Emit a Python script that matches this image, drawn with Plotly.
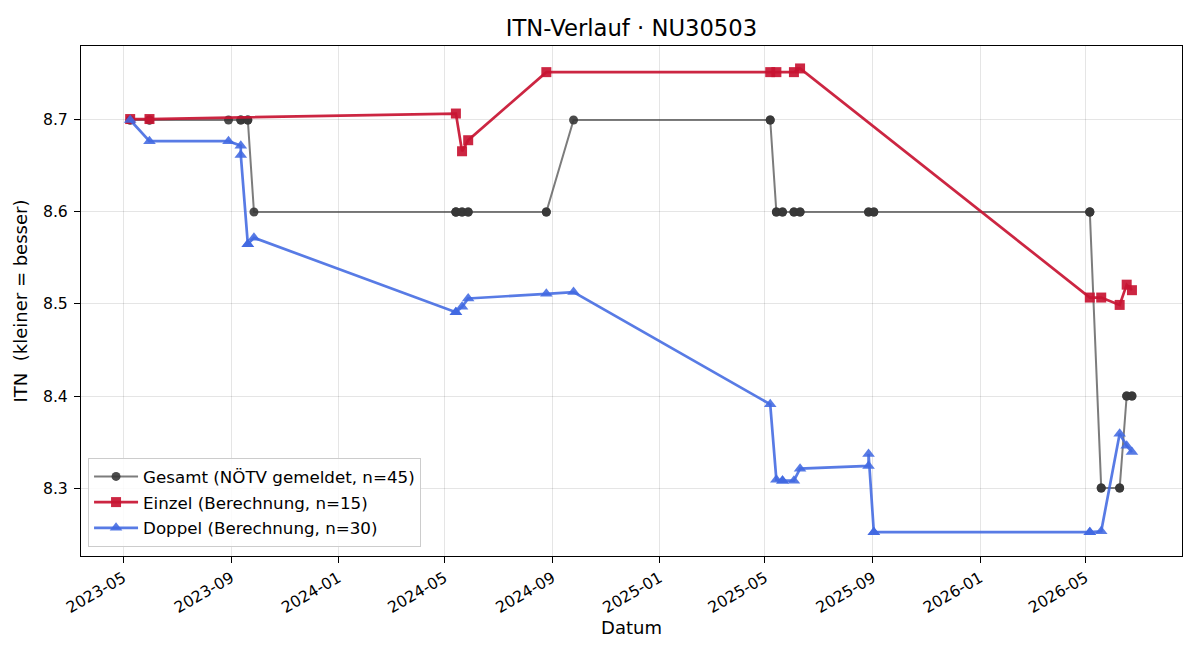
import plotly.graph_objects as go

# ---- data ----
einzel_dates = ["2023-05-09", "2023-05-31", "2024-05-14", "2024-05-21", "2024-05-28",
                "2024-08-25", "2025-05-07", "2025-05-14", "2025-06-03", "2025-06-10",
                "2026-05-06", "2026-05-19", "2026-06-09", "2026-06-17", "2026-06-23"]
einzel_vals = [8.701, 8.701, 8.707, 8.666, 8.678,
               8.752, 8.752, 8.752, 8.752, 8.756,
               8.507, 8.507, 8.499, 8.521, 8.515]

doppel_dates = ["2023-05-09", "2023-05-31", "2023-08-29", "2023-09-12", "2023-09-12",
                "2023-09-20", "2023-09-20", "2023-09-27", "2024-05-14", "2024-05-14",
                "2024-05-21", "2024-05-28", "2024-08-25", "2024-09-25", "2025-05-07",
                "2025-05-14", "2025-05-21", "2025-05-21", "2025-06-03", "2025-06-10",
                "2025-08-27", "2025-08-27", "2025-09-02", "2025-09-02", "2026-05-06",
                "2026-05-06", "2026-05-19", "2026-06-09", "2026-06-17", "2026-06-23"]
doppel_vals = [8.700, 8.677, 8.677, 8.672, 8.662,
               8.565, 8.565, 8.572, 8.491, 8.491,
               8.497, 8.506, 8.511, 8.513, 8.391,
               8.309, 8.308, 8.308, 8.308, 8.321,
               8.324, 8.337, 8.252, 8.252, 8.252,
               8.252, 8.253, 8.359, 8.346, 8.339]

gesamt_dates = ["2023-05-09", "2023-05-09", "2023-05-31", "2023-05-31", "2023-08-29",
                "2023-09-12", "2023-09-12", "2023-09-20", "2023-09-20", "2023-09-27",
                "2024-05-14", "2024-05-14", "2024-05-14", "2024-05-21", "2024-05-21",
                "2024-05-28", "2024-05-28", "2024-08-25", "2024-08-25", "2024-09-25",
                "2025-05-07", "2025-05-07", "2025-05-14", "2025-05-14", "2025-05-21",
                "2025-05-21", "2025-06-03", "2025-06-03", "2025-06-10", "2025-06-10",
                "2025-08-27", "2025-08-27", "2025-09-02", "2025-09-02", "2026-05-06",
                "2026-05-06", "2026-05-06", "2026-05-19", "2026-05-19", "2026-06-09",
                "2026-06-09", "2026-06-17", "2026-06-17", "2026-06-23", "2026-06-23"]
gesamt_vals = [8.7, 8.7, 8.7, 8.7, 8.7,
               8.7, 8.7, 8.7, 8.7, 8.6,
               8.6, 8.6, 8.6, 8.6, 8.6,
               8.6, 8.6, 8.6, 8.6, 8.7,
               8.7, 8.7, 8.6, 8.6, 8.6,
               8.6, 8.6, 8.6, 8.6, 8.6,
               8.6, 8.6, 8.6, 8.6, 8.6,
               8.6, 8.6, 8.3, 8.3, 8.3,
               8.3, 8.4, 8.4, 8.4, 8.4]

x_ticks = ["2023-05-01", "2023-09-01", "2024-01-01", "2024-05-01", "2024-09-01",
           "2025-01-01", "2025-05-01", "2025-09-01", "2026-01-01", "2026-05-01"]
x_ticklabels = ["2023-05", "2023-09", "2024-01", "2024-05", "2024-09",
                "2025-01", "2025-05", "2025-09", "2026-01", "2026-05"]
y_ticks = [8.3, 8.4, 8.5, 8.6, 8.7]

FONT = "DejaVu Sans"

fig = go.Figure()
fig.add_trace(go.Scatter(
    x=gesamt_dates, y=gesamt_vals, mode="lines+markers",
    name=f"Gesamt (NÖTV gemeldet, n={len(gesamt_vals)})", legendgroup="g",
    line=dict(color="rgba(68,68,68,0.7)", width=2),
    marker=dict(symbol="circle", size=9, color="rgba(55,55,55,0.9)",
                line=dict(width=0)),
))
fig.add_trace(go.Scatter(
    x=einzel_dates, y=einzel_vals, mode="lines+markers",
    name=f"Einzel (Berechnung, n={len(einzel_vals)})", legendgroup="e",
    line=dict(color="rgba(200,20,50,0.92)", width=2.7),
    marker=dict(symbol="square", size=10, color="rgba(200,20,50,0.92)",
                line=dict(width=0)),
))
fig.add_trace(go.Scatter(
    x=doppel_dates, y=doppel_vals, mode="lines+markers",
    name=f"Doppel (Berechnung, n={len(doppel_vals)})", legendgroup="d",
    line=dict(color="rgba(65,105,225,0.88)", width=2.7),
    marker=dict(symbol="triangle-up", size=11, color="rgba(65,105,225,0.88)",
                line=dict(width=0)),
))

fig.update_layout(
    width=1200, height=660,
    margin=dict(l=81, r=18, t=46, b=104),
    paper_bgcolor="white", plot_bgcolor="white",
    font=dict(family=FONT, size=16, color="black"),
    title=dict(text="ITN-Verlauf · NU30503", x=0.5, xref="paper",
               y=1 - 28 / 660, yref="container", yanchor="middle",
               font=dict(family=FONT, size=22.7, color="black")),
    showlegend=True,
    legend=dict(x=0.0064, y=0.0176, xanchor="left", yanchor="bottom",
                bgcolor="rgba(255,255,255,0.85)", bordercolor="#cccccc",
                borderwidth=1, font=dict(family=FONT, size=16.7),
                itemwidth=44, tracegroupgap=1),
)
fig.update_xaxes(
    range=["2023-03-14", "2026-08-19"],
    tickmode="array", tickvals=x_ticks, ticktext=x_ticklabels,
    tickangle=-30, tickfont=dict(size=15.7),
    ticks="outside", ticklen=6, tickcolor="black",
    showgrid=True, gridcolor="rgba(0,0,0,0.1)", gridwidth=1,
    showline=True, linecolor="black", linewidth=1, mirror=True,
    zeroline=False,
    title=dict(text="Datum", font=dict(size=18), standoff=4),
)
fig.update_yaxes(
    range=[8.2261, 8.7804],
    tickmode="array", tickvals=y_ticks, ticktext=[f"{v:.1f}" for v in y_ticks],
    tickfont=dict(size=15.7), ticklabelstandoff=3,
    ticks="outside", ticklen=6, tickcolor="black",
    showgrid=True, gridcolor="rgba(0,0,0,0.1)", gridwidth=1,
    showline=True, linecolor="black", linewidth=1, mirror=True,
    zeroline=False,
    title=dict(text="ITN  (kleiner = besser)", font=dict(size=18), standoff=10),
)

fig.write_html("out.html")
